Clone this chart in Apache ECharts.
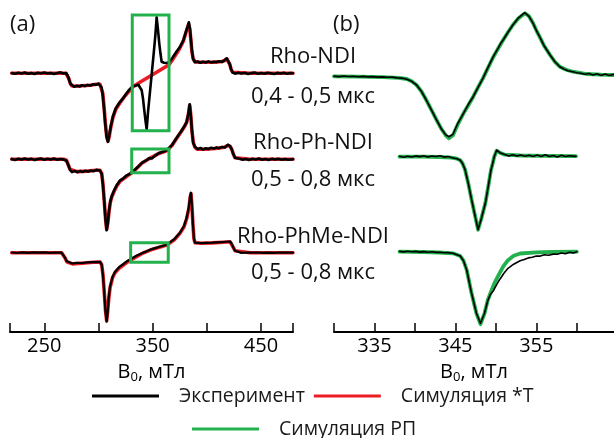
<!DOCTYPE html>
<html><head><meta charset="utf-8">
<script src="https://cdn.jsdelivr.net/npm/echarts@6/dist/echarts.min.js"></script>
<style>html,body{margin:0;padding:0;background:#fff}#c{width:614px;height:438px}</style>
</head><body><div id="c"></div>
<script>
// ---------- data (B in mT, intensity in arbitrary units relative to each trace baseline) ----------
var ticksA = [218.4, 250, 300, 350, 400, 450, 479.5];
var labelsA = [250, 350, 450];
var ticksB = [330, 335, 340, 345, 350, 355, 360];
var labelsB = [335, 345, 355];
var offsetsA = [258.7, 172.7, 79.3];
var offsetsB = [255.7, 175.3, 80.3];
var sampleNames = ['Rho-NDI', 'Rho-Ph-NDI', 'Rho-PhMe-NDI'];
var delays = ['0,4 - 0,5 мкс', '0,5 - 0,8 мкс', '0,5 - 0,8 мкс'];
var boxesA = [[331.2, 365.1, 317, 201.3], [330.7, 365.1, 183, 159.3], [329.7, 364.4, 89.3, 69.7]];

// Panel (a) Rho-NDI
var simA1 = [[220,0],[240,0],[260,0],[270,0],[271.2,-1],[272.6,-5],[274,-10],[275.4,-12.5],[278,-13],[285,-12.5],[292,-12],[298,-11],[301.4,-11],[302.8,-13],[304,-20],[305.2,-34],[306.4,-50],[307.6,-63],[308.8,-68],[310,-63],[311.4,-54],[313.4,-44],[316,-36],[319.9,-29.5],[325,-22],[331.9,-13.5],[338.3,-9],[347.5,-3],[356.7,3],[365.1,8.5],[368,13],[372.2,20],[375,25],[378.3,32],[380.8,41],[382.3,46],[383.2,49],[384.3,44],[385.3,33],[386.2,22],[387.3,15],[389.1,11.5],[392,11],[400,11],[408,11.2],[414,11.8],[416.5,12.8],[418.4,14.5],[420,13],[421.2,9],[422.4,4],[423.8,1],[425.5,0],[440,0],[460,0],[479.5,0]];
var expA1 = [[220,0.3],[223,-0.5],[226,0.6],[229,-0.2],[232,0.7],[235,-0.4],[238,0.2],[241,-0.7],[244,0.5],[247,0],[250,0.8],[253,-0.3],[256,0.4],[259,-0.6],[262,0.3],[265,0.9],[268,-0.2],[270.2,0.3],[271.5,-2],[272.8,-6],[274.1,-10.5],[275.4,-12.5],[277.5,-13.5],[280,-12.4],[282.5,-13.2],[285,-12],[287.5,-12.8],[290,-11.6],[292.5,-12.3],[295,-11],[297.5,-11.5],[300,-10.3],[301.6,-11],[302.8,-14],[304,-22],[305.2,-36],[306.4,-52],[307.6,-64],[308.8,-68.5],[310,-62],[311.4,-53],[313.4,-43],[316,-35],[319.9,-28.5],[323,-24.5],[325,-21.5],[328,-17],[331.9,-13],[334.5,-12.3],[336.8,-11.5],[338.5,-13],[339.9,-17],[341.2,-26],[342.3,-37],[343.5,-48],[344.5,-56],[345.8,-38],[347.5,-19],[349.2,0],[350.9,19],[352.5,38],[353.7,56],[354.9,44],[356.1,30],[357.2,20],[358.3,11.6],[360.5,10.5],[362.9,10.3],[365.1,11],[368,15],[372.2,22],[375,26],[378.3,33],[380.8,42],[382.3,47],[383.4,51],[384.4,45],[385.4,33],[386.3,22],[387.4,14],[389.1,11],[391.5,11.8],[394,10.6],[396.5,11.5],[399,10.8],[401.5,11.9],[404,10.9],[406.5,11.6],[409,11.2],[411.5,12],[414,11.4],[416.2,13],[418.4,15],[420,13.5],[421.2,9],[422.4,4],[423.8,0.8],[426,-0.4],[429,0.6],[432,-0.3],[435,0.5],[438,-0.6],[441,0.2],[444,0.7],[447,-0.4],[450,0.3],[453,-0.5],[456,0.6],[459,0],[462,-0.7],[465,0.4],[468,-0.2],[471,0.6],[474,-0.4],[477,0.3],[479.5,0]];

// Panel (a) Rho-Ph-NDI
var simA2 = [[220,0],[250,0],[268,0],[270.5,-1],[272,-5],[273.8,-10],[275.6,-12],[280,-12.3],[290,-11.8],[298,-11],[301.4,-11],[303,-14],[304.2,-25],[305.4,-42],[306.6,-60],[307.6,-70],[308.6,-64],[309.8,-52],[311,-43],[312.2,-38],[314.5,-32],[316.8,-27],[320,-22],[326.1,-17],[332.1,-12.4],[340,-4],[349,2],[355,5.5],[363,8.6],[368,14],[372.2,21],[376,27],[379,32],[381.4,37],[383,45],[384.2,54],[385.2,44],[386.3,28],[387.5,17],[389,12],[391,10],[400,10],[410,11],[416,12],[419.5,14],[421.5,13],[423,10],[424.5,5],[426,1.5],[427.8,0],[440,0],[479.5,0]];
var expA2 = [[220,0.4],[223,-0.6],[226,0.5],[229,-0.3],[232,0.8],[235,-0.2],[238,0.5],[241,-0.8],[244,0.3],[247,0.7],[250,-0.4],[253,0.6],[256,-0.2],[259,0.8],[262,-0.5],[265,0.3],[268,-0.3],[270.5,-1.5],[272,-5.5],[273.8,-10.5],[275.6,-12.8],[278,-11.6],[280.5,-12.9],[283,-11.8],[285.5,-12.6],[288,-11.4],[290.5,-12.3],[293,-11.2],[295.5,-11.9],[298,-10.6],[301.4,-11.2],[303,-14.5],[304.2,-26],[305.4,-43],[306.6,-61],[307.6,-71],[308.6,-64],[309.8,-51],[311,-42],[312.2,-37],[314.5,-31],[316.8,-26],[320,-21],[323,-19],[326.1,-16],[329,-14.5],[332.1,-11.8],[336,-8],[340,-3.5],[344,-1],[347,1.2],[348.5,2.2],[349.3,0.8],[350.2,2.8],[353,4.2],[356,6.3],[359,7.2],[363,9],[368,14.5],[372.2,21.5],[376,27.5],[379,32.5],[381.4,37.5],[383,46],[384.2,55],[385.2,44],[386.3,28],[387.5,16],[389,12.5],[391.5,10.2],[394,11.3],[396.5,9.8],[399,11.1],[401.5,10.3],[404,11.6],[406.5,10.7],[409,11.9],[411.5,11.1],[414,12.4],[416.5,11.8],[419.5,14.5],[421.5,13],[423,10],[424.5,5],[426,1.5],[427.8,-0.3],[430,0.6],[433,-0.5],[436,0.4],[439,-0.7],[442,0.5],[445,-0.2],[448,0.7],[451,-0.4],[454,0.3],[457,-0.6],[460,0.5],[463,-0.3],[466,0.6],[469,-0.4],[472,0.2],[475,-0.5],[479.5,0.2]];

// Panel (a) Rho-PhMe-NDI
var simA3 = [[220,0],[250,0],[266,0],[267.6,-1],[269.1,-5],[270.8,-9],[272.5,-11],[276,-11.2],[285,-10.5],[295,-9.5],[301.5,-9.3],[303,-12],[304.2,-22],[305.4,-40],[306.5,-58],[307.6,-68],[308.6,-58],[309.6,-45],[310.7,-35],[313,-25],[315.3,-20],[319,-15.5],[323,-12.3],[327,-9],[330.7,-6.7],[340,-1],[350,3.5],[363,7.7],[370,13],[375.2,19.4],[379,26],[381.4,34],[383.4,44],[384.6,55],[385.4,59],[386.3,46],[387.2,28],[388.1,14],[389.1,10],[395,9.4],[405,9.8],[415,10.5],[421.4,11],[423,9],[424.5,5],[426,2],[427.5,0],[440,0],[479.5,0]];
var expA3 = [[220,0.2],[225,-0.3],[230,0.3],[235,-0.2],[240,0.3],[245,0],[250,0.3],[255,-0.2],[260,0.2],[266,0],[267.6,-1],[269.1,-5],[270.8,-8.5],[272.5,-10.5],[276,-10.8],[280,-10.2],[285,-10.3],[290,-9.6],[295,-9.4],[301.5,-9.2],[303,-12],[304.2,-23],[305.4,-41],[306.5,-59],[307.6,-69],[308.6,-58],[309.6,-44],[310.7,-34],[313,-24],[315.3,-19],[319,-14.5],[323,-11.3],[327,-8],[330.7,-5.8],[335,-3],[340,-0.5],[345,1.8],[347.5,3],[348.5,2],[350,3.8],[355,5.5],[363,8],[370,13.5],[375.2,20],[379,27],[381.4,35],[383.4,46],[384.6,57],[385.4,60],[386.3,46],[387.2,28],[388.1,14],[389.1,10],[395,9.6],[400,9.9],[405,10],[410,10.4],[415,10.7],[421.4,11.2],[423,9],[424.5,5],[426,2],[427.5,0.2],[432,-0.2],[437,0.2],[442,0],[447,0.2],[452,-0.2],[457,0.1],[462,-0.1],[467,0.2],[472,0],[479.5,0.1]];

// Panel (b) Rho-NDI
var simB1 = [[330,0],[333,-0.3],[336,-0.8],[338,-1.5],[339,-2.7],[339.6,-5],[340.2,-8.7],[340.8,-15],[341.4,-23.7],[342,-33],[342.7,-44],[343.3,-53],[343.8,-59],[344.2,-62],[344.7,-59],[345.3,-48],[346,-37],[346.6,-29],[347.2,-20.4],[347.8,-11],[348.4,-2],[349,8],[349.7,19.6],[350.3,28],[350.9,36.3],[351.5,44],[352.1,51.3],[352.8,58],[353.6,63],[354.1,60],[354.6,53],[355,46],[355.4,39.6],[356,30],[356.7,21.3],[357.3,14.5],[357.9,9.6],[358.7,6.5],[359.5,4.6],[361.2,2.3],[363,1.6],[364.6,1.3]];
var expB1 = [[330,0.2],[330.6,-0.3],[331.2,0.3],[331.8,-0.2],[332.4,0.1],[333,-0.5],[333.6,-0.1],[334.2,-0.6],[334.8,-0.3],[335.4,-0.8],[336,-0.6],[336.6,-1],[337.2,-0.8],[337.8,-1.6],[338.4,-1.8],[339,-2.9],[339.6,-5],[340.2,-8.7],[340.8,-15],[341.4,-23.7],[342,-33],[342.7,-44],[343.3,-53],[343.8,-58.5],[344.2,-60.4],[344.7,-58],[345.3,-47],[346,-37],[346.6,-28],[347.2,-20.4],[347.8,-11],[348.4,-2],[349,8.5],[349.7,20],[350.3,28.5],[350.6,33],[350.9,36.3],[351.5,44],[352.1,51.3],[352.8,58.5],[353.3,62],[353.6,63.5],[354.1,60],[354.6,53],[355,46],[355.4,39.6],[356,30],[356.7,21.3],[357.3,14.5],[357.9,9.6],[358.4,7.3],[358.9,5.6],[359.5,4.6],[360,3.6],[360.5,3.1],[361,2.0],[361.5,2.8],[362,1.4],[362.5,2.5],[363,0.9],[363.5,2.2],[364,0.8],[364.6,1.9]];

// Panel (b) Rho-Ph-NDI
var simB2 = [[338.1,0],[341,0],[343,-0.3],[344.5,-1],[345.2,-2],[345.6,-3.5],[345.9,-7],[346.2,-13],[346.6,-27],[347,-43],[347.4,-58],[347.8,-73],[348.2,-62],[348.7,-46.6],[349.1,-28],[349.4,-13.3],[349.6,-7],[349.8,0],[350.1,6],[350.5,4],[351.1,2],[353,1.2],[356,0.8],[359.9,0.6]];
var expB2 = [[338.1,0.5],[338.6,-0.6],[339.1,0.4],[339.6,-0.3],[340.1,0.8],[340.6,0.1],[341.1,0.9],[341.6,-0.2],[342.1,0.7],[342.6,0.2],[343.1,1],[343.6,-0.4],[344.1,0.2],[344.6,-1.1],[345.2,-2],[345.6,-3.5],[345.9,-7],[346.2,-13],[346.6,-27],[347,-43],[347.4,-58],[347.8,-73],[348.2,-62],[348.7,-46.6],[349.1,-28],[349.4,-13.3],[349.6,-7],[349.8,0],[350.1,6.5],[350.5,4],[351.1,2.3],[351.6,0.8],[352.1,1.9],[352.6,0.6],[353.1,1.7],[353.6,0.4],[354.1,1.5],[354.6,0.2],[355.1,1.6],[355.6,0.3],[356.1,1.9],[356.6,0.1],[357.1,1.2],[357.6,-0.2],[358.1,1.4],[358.6,0.2],[359.1,1],[359.9,0.3]];

// Panel (b) Rho-PhMe-NDI
var simB3 = [[338.1,0],[341,-0.3],[343,-0.8],[344.7,-1.6],[345.6,-4.3],[346,-9],[346.4,-18.3],[347,-41.6],[347.6,-61.6],[348.1,-72.5],[348.6,-61.6],[349,-48.5],[349.4,-40],[349.8,-32],[350.3,-24],[350.9,-15],[351.5,-8.5],[352.2,-4],[353,-1.8],[355,-0.7],[357,-0.3],[360,0]];
var expB3 = [[338.1,0.3],[338.6,-0.2],[339.1,0.4],[339.6,0],[340.1,0.3],[340.6,-0.4],[341.1,0.1],[341.6,-0.5],[342.1,-0.1],[342.6,-0.7],[343.1,-0.5],[343.6,-1],[344.1,-0.9],[344.7,-1.6],[345.6,-4.3],[346,-9],[346.4,-18.3],[347,-41.6],[347.6,-61.6],[348.1,-71.6],[348.6,-61.6],[349,-49],[349.3,-43],[349.7,-39],[350.1,-33],[350.5,-27.5],[351,-21.5],[351.5,-16.6],[352.2,-12.5],[353,-9],[353.5,-7.9],[354,-6.2],[354.5,-5.6],[355,-4.3],[355.5,-4.4],[356,-3.1],[356.5,-3.5],[357.1,-2.4],[357.6,-2.6],[358.1,-1.3],[358.6,-2],[359.1,-0.6],[359.6,-1.2],[360,0]];

// ---------- chart ----------
var FONT = 'Open Sans';
var RED = '#ed1c24', GREEN = '#22b14c', BLACK = '#000000';
function shift(arr, off) { return arr.map(function (p) { return [p[0], p[1] + off]; }); }
function line(name, color, width, arr, off, grid, z) {
  return { name: name, type: 'line', xAxisIndex: grid, yAxisIndex: grid, data: shift(arr, off),
    showSymbol: false, symbol: 'none', smooth: false, z: z, silent: true,
    lineStyle: { color: color, width: width, join: 'round', cap: 'round' }, itemStyle: { color: color } };
}
var series = [];
var simsA = [simA1, simA2, simA3], expsA = [expA1, expA2, expA3];
var simsB = [simB1, simB2, simB3], expsB = [expB1, expB2, expB3];
var expWidthA = [2.6, 2.6, 2.2];
for (var i = 0; i < 3; i++) series.push(line('Симуляция *Т', RED, 3.6, simsA[i], offsetsA[i], 0, 2));
for (var i = 0; i < 3; i++) series.push(line('Эксперимент', BLACK, expWidthA[i], expsA[i], offsetsA[i], 0, 3));
for (var i = 0; i < 3; i++) series.push(line('Симуляция РП', GREEN, 3.8, simsB[i], offsetsB[i], 1, 2));
for (var i = 0; i < 3; i++) series.push(line('Эксперимент', BLACK, 1.6, expsB[i], offsetsB[i], 1, 3));
series.push({ name: 'boxes', type: 'line', xAxisIndex: 0, yAxisIndex: 0, data: [], z: 6, silent: true,
  markArea: { silent: true, z: 6, itemStyle: { color: 'rgba(0,0,0,0)', borderColor: GREEN, borderWidth: 3 },
    data: boxesA.map(function (b) { return [{ coord: [b[0], b[2]] }, { coord: [b[1], b[3]] }]; }) } });

function xAxis(grid, min, max, ticks, labels) {
  return { type: 'value', gridIndex: grid, min: min, max: max,
    axisLine: { show: true, onZero: false, lineStyle: { color: BLACK, width: 2 } },
    axisTick: { show: true, inside: true, length: 9, customValues: ticks, lineStyle: { color: BLACK, width: 1.5 } },
    axisLabel: { customValues: labels, color: BLACK, fontSize: 20, fontFamily: FONT, margin: 4 },
    splitLine: { show: false },
    name: '{b|B}{s|0}{b|, мТл}', nameLocation: 'middle', nameGap: 28,
    nameTextStyle: { color: BLACK, fontFamily: FONT, fontSize: 20,
      rich: { b: { fontSize: 20, fontFamily: FONT, color: BLACK, lineHeight: 24 },
              s: { fontSize: 13, fontFamily: FONT, color: BLACK, verticalAlign: 'bottom', lineHeight: 24, padding: [6, 0, 0, 0] } } } };
}
function yAxis(grid) { return { type: 'value', gridIndex: grid, min: 0, max: 332, show: false }; }

var texts = [{ t: '(a)', x: 10, y: 25, a: 'left' }, { t: '(b)', x: 333, y: 25, a: 'left' }];
var nameY = [57, 143, 237], delayY = [97, 180, 273];
for (var i = 0; i < 3; i++) {
  texts.push({ t: sampleNames[i], x: 313, y: nameY[i], a: 'center' });
  texts.push({ t: delays[i], x: 313, y: delayY[i], a: 'center' });
}

var legendText = { fontSize: 19.5, fontFamily: FONT, color: '#1a1a1a', padding: [0, 0, 0, 15] };
var option = {
  animation: false,
  backgroundColor: '#fff',
  grid: [{ left: 10, width: 283, top: 0, bottom: 106 }, { left: 334, right: 0, top: 0, bottom: 106 }],
  xAxis: [xAxis(0, 218.4, 479.5, ticksA, labelsA), xAxis(1, 330, 364.6, ticksB, labelsB)],
  yAxis: [yAxis(0), yAxis(1)],
  legend: [
    { data: ['Эксперимент', 'Симуляция *Т'], left: 92, top: 386, padding: 0, icon: 'rect', itemWidth: 67, itemHeight: 3, itemGap: 9, textStyle: legendText, selectedMode: false },
    { data: ['Симуляция РП'], left: 192, top: 419, padding: 0, icon: 'rect', itemWidth: 67, itemHeight: 3, textStyle: legendText, selectedMode: false }
  ],
  graphic: texts.map(function (o) {
    return { type: 'text', x: o.x, y: o.y, silent: true, z: 10,
      style: { text: o.t, fill: '#111', font: '22px "' + FONT + '"', textAlign: o.a, textVerticalAlign: 'middle' } };
  }),
  series: series
};
var chart = echarts.init(document.getElementById('c'), null, { renderer: 'canvas' });
chart.setOption(option);
</script></body></html>
